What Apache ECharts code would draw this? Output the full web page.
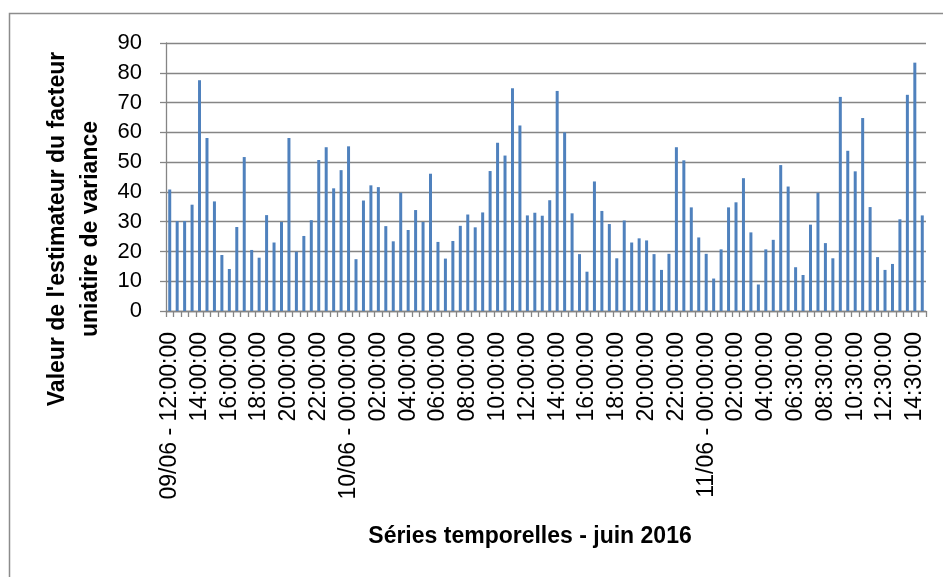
<!DOCTYPE html>
<html>
<head>
<meta charset="utf-8">
<script src="https://cdn.jsdelivr.net/npm/echarts@6/dist/echarts.min.js"></script>
<style>
html,body{margin:0;padding:0;background:#fff;}
#chart{width:943px;height:577px;}
</style>
</head>
<body>
<div id="chart"></div>
<script>
// 30-minute time steps starting 09/06 12:00, one missing step (06:00 on 11/06)
const startDay = 9;
const startMinutes = 12 * 60;
const stepMinutes = 30;
const missingAfterIndex = 83;
const barCount = 102;

const values = [
  40.8, 30.2, 30.2, 35.7, 77.5, 58.1, 36.8, 18.8, 14.1, 28.2,
  51.7, 20.5, 17.9, 32.2, 23.0, 29.9, 58.1, 19.9, 25.2, 30.5,
  50.7, 55.0, 41.2, 47.3, 55.3, 17.4, 37.1, 42.2, 41.6, 28.5,
  23.4, 39.7, 27.2, 33.9, 29.9, 46.1, 23.2, 17.6, 23.5, 28.6,
  32.4, 28.1, 33.1, 47.0, 56.5, 52.2, 74.8, 62.3, 32.1, 33.0,
  32.0, 37.2, 73.9, 60.0, 32.8, 19.1, 13.2, 43.5, 33.6, 29.2,
  17.7, 30.4, 23.0, 24.4, 23.7, 19.1, 13.8, 19.2, 55.0, 50.6,
  34.8, 24.7, 19.2, 10.9, 20.7, 34.8, 36.5, 44.6, 26.4, 8.9,
  20.7, 23.9, 49.0, 41.8, 14.7, 12.1, 29.0, 39.7, 22.8, 17.7,
  71.9, 53.8, 46.9, 64.8, 34.9, 18.1, 13.8, 15.8, 30.8, 72.6,
  83.4, 32.1
];

const yTicks = [0, 10, 20, 30, 40, 50, 60, 70, 80, 90];
const yTitle = "Valeur de l'estimateur du facteur\nuniatire de variance";
const xTitle = "Séries temporelles - juin 2016";

function pad(n) { return (n < 10 ? '0' : '') + n; }
const categories = [];
for (let i = 0; i < barCount; i++) {
  const m = startMinutes + stepMinutes * i + (i > missingAfterIndex ? stepMinutes : 0);
  const day = startDay + Math.floor(m / 1440);
  const mm = m % 1440;
  const t = pad(Math.floor(mm / 60)) + ':' + pad(mm % 60) + ':00';
  if (i === 0 || mm === 0) categories.push(pad(day) + '/06 - ' + t);
  else categories.push(t);
}

const FONT = '"Liberation Sans", Arial, sans-serif';
const GRAY = '#858585';

const chart = echarts.init(document.getElementById('chart'), null, {renderer: 'canvas'});
chart.setOption({
  animation: false,
  backgroundColor: '#ffffff',
  graphic: [{
    type: 'rect',
    shape: {x: 9.5, y: 13.5, width: 960, height: 600},
    style: {fill: 'none', stroke: '#8c8c8c', lineWidth: 1.5},
    silent: true
  }, {
    type: 'text',
    x: 74, y: 229,
    rotation: Math.PI / 2,
    style: {
      text: yTitle,
      font: 'bold 23px ' + FONT,
      fill: '#000',
      align: 'center',
      verticalAlign: 'middle',
      lineHeight: 33
    },
    silent: true
  }, {
    type: 'text',
    x: 530, y: 537,
    style: {
      text: xTitle,
      font: 'bold 23px ' + FONT,
      fill: '#000',
      align: 'center',
      verticalAlign: 'middle'
    },
    silent: true
  }],
  grid: {left: 166, right: 17, top: 43, bottom: 266, containLabel: false},
  xAxis: {
    type: 'category',
    data: categories,
    boundaryGap: true,
    axisLine: {show: true, lineStyle: {color: GRAY, width: 1.3}},
    axisTick: {show: true, interval: 0, length: 6, lineStyle: {color: GRAY, width: 1.3}},
    axisLabel: {
      interval: 3,
      rotate: 90,
      margin: 21,
      fontFamily: FONT,
      fontSize: 23,
      color: '#000'
    },
    splitLine: {show: false}
  },
  yAxis: {
    type: 'value',
    min: yTicks[0],
    max: yTicks[yTicks.length - 1],
    interval: 10,
    axisLine: {show: true, lineStyle: {color: GRAY, width: 1.3}},
    axisTick: {show: true, length: 6, lineStyle: {color: GRAY, width: 1.3}},
    axisLabel: {fontFamily: FONT, fontSize: 22, color: '#000', margin: 24},
    splitLine: {show: true, lineStyle: {color: GRAY, width: 1.3}}
  },
  series: [{
    type: 'bar',
    data: values,
    barWidth: 3,
    itemStyle: {color: '#4F81BD'}
  }]
});
</script>
</body>
</html>
